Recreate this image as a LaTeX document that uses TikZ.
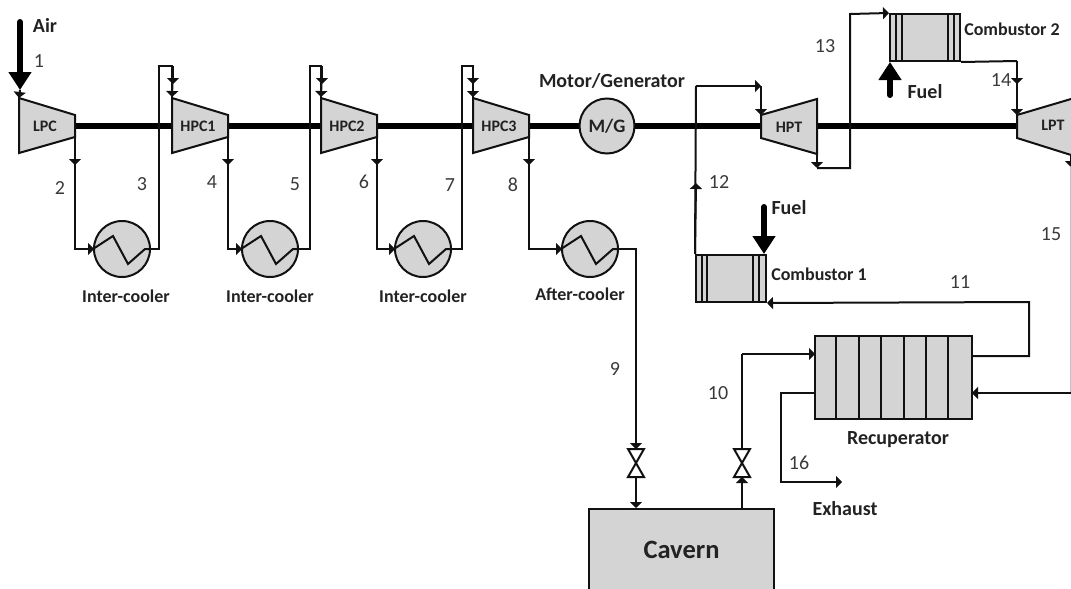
\documentclass[tikz,border=0pt]{standalone}
\usepackage{fontspec}
\setmainfont{Carlito}
\usetikzlibrary{arrows.meta, calc}
\definecolor{cFill}{HTML}{D4D4D4}
\definecolor{cLine}{HTML}{111111}
\definecolor{cText}{HTML}{222222}
\definecolor{cNum}{HTML}{3A3A3A}

\begin{document}
\begin{tikzpicture}[
    x=1pt, y=-1pt, font=\fontsize{15pt}{17pt}\selectfont,
    pipe/.style={draw=cLine, line width=2pt},
    flow/.style={pipe, -{Triangle[length=6pt,width=12pt]}},
    shaft/.style={draw=black, line width=6.5pt},
    feed/.style={draw=black, line width=6pt, line cap=round,
                 -{Triangle[length=18pt,width=22pt]}},
    machine/.style={draw=cLine, line width=2pt, fill=cFill},
    mname/.style={font=\bfseries\fontsize{16pt}{18pt}\selectfont, text=cText, inner sep=0pt},
    hx/.style={circle, draw=cLine, line width=2pt, fill=cFill, inner sep=0pt, minimum size=56pt},
    can/.style={rectangle, draw=cLine, line width=2pt, fill=cFill, inner sep=0pt},
    lbl/.style={font=\bfseries\fontsize{18pt}{20pt}\selectfont, text=cText, inner sep=0pt},
    biglbl/.style={font=\bfseries\fontsize{20pt}{22pt}\selectfont, text=cText, inner sep=0pt},
    num/.style={font=\fontsize{20pt}{22pt}\selectfont, text=cNum, inner sep=0pt},
]
\useasboundingbox (0,0) rectangle (1071,589);

% ===================== Shaft =====================
\coordinate (shaft-l) at (45,126);
\coordinate (shaft-r) at (1045,126);
\draw[shaft] (shaft-l) -- (shaft-r);

% ===================== Compressors =====================
\foreach \n/\x in {LPC/19, HPC1/172, HPC2/321, HPC3/473}{
  \coordinate (\n-in) at (\x,98);
  \coordinate (\n-out) at (\x+56,137);
  \draw[machine] (\n-in) -- (\x+56,115) -- (\n-out) -- (\x,153) -- cycle;
  \node[mname] (\n) at (\x+26,126) {\n};
}

% ===================== Turbines =====================
\coordinate (HPT-in) at (761,115);
\coordinate (HPT-out) at (817,154);
\draw[machine] (HPT-in) -- (817,99) -- (HPT-out) -- (761,138) -- cycle;
\node[mname] (HPT) at (789,127) {HPT};

\coordinate (LPT-in) at (1017,115);
\coordinate (LPT-out) at (1071,155);
\fill[cFill] (LPT-in) -- (1071,99) -- (LPT-out) -- (1017,138) -- cycle;
\draw[pipe] (1071,99) -- (LPT-in) -- (1017,138) -- (LPT-out);
\node[mname] (LPT) at (1053,125) {LPT};

% ===================== Motor/Generator =====================
\node[hx, minimum size=55pt, font=\bfseries\fontsize{19pt}{21pt}\selectfont, text=cText] (MG) at (607,126) {M/G};
\node[biglbl] (MG-name) at (612,81) {Motor/Generator};

% ===================== Coolers =====================
\foreach \n/\x in {ic1/122, ic2/270, ic3/423, ac/590}{
  \node[hx] (\n) at (\x,249) {};
  \draw[pipe] (\n.west) -- ++(20,-13) -- ++(15,28) -- ++(17,-15) -- (\n.east);
}
\node[lbl] (ic1-name) at (126,296) {Inter-cooler};
\node[lbl] (ic2-name) at (270,296) {Inter-cooler};
\node[lbl] (ic3-name) at (423,296) {Inter-cooler};
\node[lbl] (ac-name) at (580,294) {After-cooler};

% ===================== Intercooler loops =====================
\foreach \c/\h/\m/\u/\s/\t in {LPC/ic1/HPC1/159/75/173, HPC1/ic2/HPC2/310/228/322, HPC2/ic3/HPC3/462/377/473}{
  \draw[pipe] (\c-out) |- (\h.west);
  \draw[flow] (\c-out) -- (\s,165);
  \draw[flow] (\s,249) -- ($(\h.west)+(1,0)$);
  \draw[pipe] (\h.east) -| (\u,66) -| (\m-in);
  \draw[flow] (\t,66) -- (\t,84);
  \draw[flow] (\t,66) -- ($(\m-in)+(0,-1)$);
}

% ===================== Aftercooler and cavern =====================
\node[can, minimum width=185pt, minimum height=82pt, font=\bfseries\fontsize{26.5pt}{28pt}\selectfont, text=cText] (cavern) at (681.5,550) {Cavern};

\coordinate (valve-in) at (636,463);
\coordinate (valve-out) at (742,463);
\foreach \v in {valve-in, valve-out}{
  \draw[pipe] ($(\v)+(-8,-14)$) -- ($(\v)+(8,-14)$) -- ($(\v)+(-8,14)$) -- ($(\v)+(8,14)$) -- cycle;
}

\draw[pipe] (HPC3-out) |- (ac.west);
\draw[flow] (HPC3-out) -- (529,165);
\draw[flow] (529,249) -- ($(ac.west)+(1,0)$);
\draw[flow] (ac.east) -| ($(valve-in)+(0,-14)$);
\draw[flow] ($(valve-in)+(0,14)$) -- (valve-in |- cavern.north);
\draw[flow] (valve-out |- cavern.north) -- ($(valve-out)+(0,14)$);

% ===================== Recuperator =====================
\node[can, minimum width=157pt, minimum height=83pt] (recup) at (893.5,377.5) {};
\foreach \i in {1,...,6}{
  \draw[pipe] ($(recup.north west)+(\i*22.4,0)$) -- ($(recup.south west)+(\i*22.4,0)$);
}
\node[biglbl] (recup-name) at (898,440) {Recuperator};
\coordinate (recup-a) at (815,354);
\coordinate (recup-b) at (972,356);
\coordinate (recup-c) at (972,393);
\coordinate (recup-d) at (815,393);

% ===================== Combustor 1 =====================
\node[can, minimum width=70pt, minimum height=47pt] (comb1) at (731,278.5) {};
\foreach \x in {702,707,753,759}{
  \draw[pipe] (\x,255) -- (\x,302);
}
\node[lbl] (comb1-name) at (819,274) {Combustor 1};
\coordinate (fuel1) at (764,207);
\coordinate (fuel1-tip) at (764,254);
\draw[feed] (fuel1) -- (fuel1-tip);
\node[biglbl] (fuel1-name) at (789,208) {Fuel};

% ===================== Combustor 2 =====================
\node[can, minimum width=70pt, minimum height=47pt] (comb2) at (925,37.5) {};
\foreach \x in {896,902,948,954}{
  \draw[pipe] (\x,14) -- (\x,61);
}
\node[lbl] (comb2-name) at (1012,29) {Combustor 2};
\coordinate (fuel2) at (890,95);
\coordinate (fuel2-tip) at (890,62);
\draw[feed] (fuel2) -- (fuel2-tip);
\node[biglbl] (fuel2-name) at (925,92) {Fuel};

% ===================== Air inlet =====================
\coordinate (air) at (20,22);
\coordinate (air-tip) at (20,90);
\draw[feed] (air) -- (air-tip);
\node[biglbl] (air-name) at (45,25) {Air};
\draw[flow] (air-tip) -- (LPC-in);

% ===================== Gas path =====================
\coordinate (bend10) at (742,354);
\coordinate (bend12) at (696,86);
\coordinate (tip12) at (696,183);
\coordinate (bend11) at (1029,302);
\coordinate (top-hpt) at (761,86);
\coordinate (out-hpt) at (817,168);
\coordinate (bend13) at (850,14);
\coordinate (bend14) at (1017,61);
\coordinate (tip14) at (1017,84);
\coordinate (lpt-down) at (1071,167);
\coordinate (bend15) at (1071,393);
\coordinate (bend16) at (781,482);
\coordinate (exhaust-tip) at (842,482);

\draw[pipe] ($(valve-out)+(0,-14)$) -- (bend10);
\draw[flow] (bend10) -- (recup-a);
\draw[flow] (recup-b) -| (bend11) -- (comb1.south east);
\draw[pipe] (comb1.north west) -- (bend12);
\draw[flow] (comb1.north west) -- (tip12);
\draw[flow] (bend12) -- (top-hpt);
\draw[flow] (top-hpt) -- (HPT-in);
\draw[flow] (HPT-out) -- (out-hpt);
\draw[flow] (out-hpt) -| (bend13) -- (comb2.north west);
\draw[pipe] (comb2.south east) -- (bend14);
\draw[flow] (bend14) -- (tip14);
\draw[flow] (bend14) -- (LPT-in);
\draw[flow] (LPT-out) -- (lpt-down);
\draw[pipe, draw=cLine!25] (lpt-down) -- (bend15);
\draw[flow] (bend15) -- (recup-c);
\draw[flow] (recup-d) -| (bend16) -- (exhaust-tip);
\node[biglbl] (exhaust) at (845,509) {Exhaust};

% ===================== Stream numbers =====================
\foreach \t/\x/\y in {1/39/61, 2/60/188, 3/142/184, 4/212/182, 5/295/184, 6/364/182, 7/450/185, 8/513/185, 9/615/369, 10/718/393, 11/960/282, 12/719/182, 13/825/46, 14/1001/80, 15/1051/234, 16/799/463}{
  \node[num] (s\t) at (\x,\y) {\t};
}
\end{tikzpicture}
\end{document}
